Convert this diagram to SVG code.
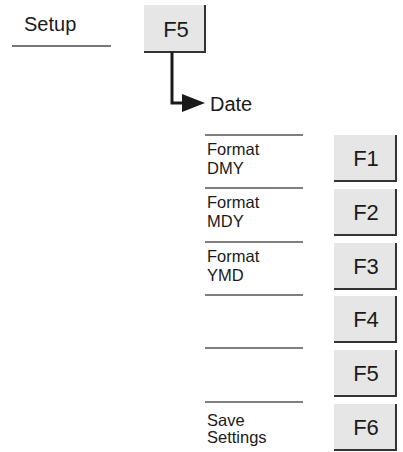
<svg xmlns="http://www.w3.org/2000/svg" width="403" height="452" viewBox="0 0 403 452">
<style>
text{font-family:"Liberation Sans",Arial,sans-serif;fill:#1a1a1a}
.lbl{font-size:16.5px}
.key{font-size:22px;text-anchor:middle}
.bg{fill:#e6e6e6}
.edge{fill:none;stroke:#333;stroke-width:2}
.sep{stroke:#555;stroke-width:1.5}
.conn{fill:none;stroke:#1a1a1a;stroke-width:3}
.head{fill:#1a1a1a}
</style>
<g id="setup">
<text x="24" y="31" style="font-size:20px">Setup</text>
<line x1="12" y1="46" x2="111" y2="46" stroke="#777" stroke-width="2"/>
</g>
<g id="key-f5-top">
<rect class="bg" x="144" y="5" width="61" height="47"/>
<path class="edge" d="M205,5 V52 H144"/>
<text class="key" x="176" y="37">F5</text>
</g>
<g id="connectors">
<path class="conn" d="M172,52 V103 H186"/>
<polygon class="head" points="182,94 205,103 182,112"/>
</g>
<g id="date"><text x="210" y="111" style="font-size:20px">Date</text></g>
<g id="row1">
<line class="sep" x1="205" y1="135" x2="303" y2="135"/>
<text class="lbl" x="207" y="155">Format</text><text class="lbl" x="207" y="174">DMY</text>
<rect class="bg" x="334" y="135" width="62" height="46"/><path class="edge" d="M396,135 V181 H334"/>
<text class="key" x="366" y="166">F1</text>
</g>
<g id="row2">
<line class="sep" x1="205" y1="188" x2="303" y2="188"/>
<text class="lbl" x="207" y="208">Format</text><text class="lbl" x="207" y="227">MDY</text>
<rect class="bg" x="334" y="189" width="62" height="46"/><path class="edge" d="M396,189 V235 H334"/>
<text class="key" x="366" y="220">F2</text>
</g>
<g id="row3">
<line class="sep" x1="205" y1="242" x2="303" y2="242"/>
<text class="lbl" x="207" y="262">Format</text><text class="lbl" x="207" y="281">YMD</text>
<rect class="bg" x="334" y="243" width="62" height="46"/><path class="edge" d="M396,243 V289 H334"/>
<text class="key" x="366" y="274">F3</text>
</g>
<g id="row4">
<line class="sep" x1="205" y1="295" x2="303" y2="295"/>
<rect class="bg" x="334" y="296" width="62" height="46"/><path class="edge" d="M396,296 V342 H334"/>
<text class="key" x="366" y="327">F4</text>
</g>
<g id="row5">
<line class="sep" x1="205" y1="348" x2="303" y2="348"/>
<rect class="bg" x="334" y="350" width="62" height="46"/><path class="edge" d="M396,350 V396 H334"/>
<text class="key" x="366" y="381">F5</text>
</g>
<g id="row6">
<line class="sep" x1="205" y1="402" x2="303" y2="402"/>
<text class="lbl" x="207" y="426">Save</text><text class="lbl" x="207" y="443">Settings</text>
<rect class="bg" x="334" y="404" width="62" height="46"/><path class="edge" d="M396,404 V450 H334"/>
<text class="key" x="366" y="435">F6</text>
</g>
</svg>
